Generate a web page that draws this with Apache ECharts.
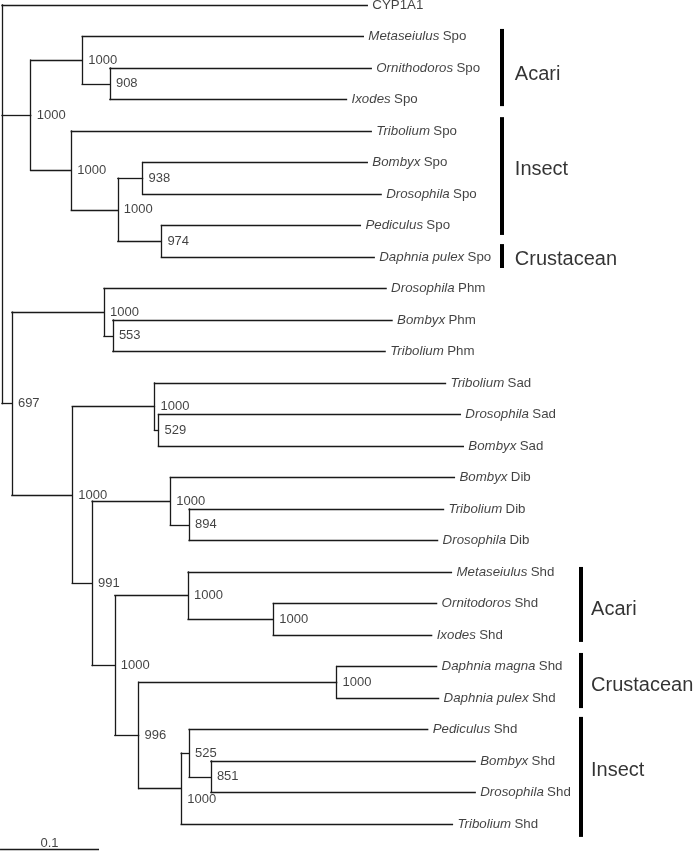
<!DOCTYPE html>
<html>
<head>
<meta charset="utf-8">
<script src="https://cdn.jsdelivr.net/npm/echarts@6/dist/echarts.min.js"></script>
<style>html,body{margin:0;padding:0;background:#fff}#c{width:695px;height:851px}</style>
</head>
<body>
<div id="c"></div>
<script>
// ---- Leaves (top to bottom) ----
const leafGenus = ['', 'Metaseiulus', 'Ornithodoros', 'Ixodes', 'Tribolium', 'Bombyx', 'Drosophila', 'Pediculus', 'Daphnia pulex',
  'Drosophila', 'Bombyx', 'Tribolium', 'Tribolium', 'Drosophila', 'Bombyx', 'Bombyx', 'Tribolium', 'Drosophila',
  'Metaseiulus', 'Ornitodoros', 'Ixodes', 'Daphnia magna', 'Daphnia pulex', 'Pediculus', 'Bombyx', 'Drosophila', 'Tribolium'];
const leafGene = ['CYP1A1', 'Spo', 'Spo', 'Spo', 'Spo', 'Spo', 'Spo', 'Spo', 'Spo',
  'Phm', 'Phm', 'Phm', 'Sad', 'Sad', 'Sad', 'Dib', 'Dib', 'Dib',
  'Shd', 'Shd', 'Shd', 'Shd', 'Shd', 'Shd', 'Shd', 'Shd', 'Shd'];
const leafParent = ['root', 'B', 'C', 'C', 'D', 'F', 'F', 'G', 'G',
  'I', 'J', 'J', 'L', 'M', 'M', 'O', 'P', 'P',
  'R', 'S', 'S', 'U', 'U', 'W', 'X', 'X', 'V'];
const leafDepth = [0.369, 0.365, 0.373, 0.348, 0.373, 0.369, 0.383, 0.362, 0.376,
  0.388, 0.394, 0.387, 0.448, 0.463, 0.466, 0.457, 0.446, 0.440,
  0.454, 0.439, 0.434, 0.439, 0.441, 0.430, 0.478, 0.478, 0.455];

// ---- Internal nodes ----
const nodeIds     = ['root', 'A', 'B', 'C', 'D', 'E', 'F', 'G', 'H', 'I', 'J', 'K', 'L', 'M', 'N', 'O', 'P', 'Q', 'R', 'S', 'T', 'U', 'V', 'W', 'X'];
const nodeParent  = [null, 'root', 'A', 'B', 'A', 'D', 'E', 'E', 'root', 'H', 'I', 'H', 'K', 'L', 'K', 'N', 'O', 'N', 'Q', 'R', 'Q', 'T', 'T', 'V', 'W'];
const nodeDepth   = [0, 0.029, 0.081, 0.109, 0.070, 0.117, 0.142, 0.161, 0.010, 0.103, 0.112, 0.071, 0.154, 0.158, 0.091, 0.170, 0.189, 0.114, 0.188, 0.274, 0.138, 0.338, 0.181, 0.189, 0.211];
const nodeSupport = [null, 1000, 1000, 908, 1000, 1000, 938, 974, 697, 1000, 553, 1000, 1000, 529, 991, 1000, 894, 1000, 1000, 1000, 996, 1000, 1000, 525, 851];
const supportBelow = ['V'];

// ---- Clade brackets ----
const cladeNames    = ['Acari', 'Insect', 'Crustacean', 'Acari', 'Crustacean', 'Insect'];
const cladeBarX     = [0.505, 0.505, 0.505, 0.585, 0.585, 0.585];
const cladeLabelX   = [0.518, 0.518, 0.518, 0.595, 0.595, 0.595];
const cladeRowStart = [0.76, 3.56, 7.59, 17.84, 20.57, 22.60];
const cladeRowEnd   = [3.21, 7.30, 8.35, 20.22, 22.32, 26.41];
const cladeLabelRow = [2.20, 5.22, 8.07, 19.2, 21.6, 24.3];

// ---- Scale bar ----
const scaleBarStart = -0.002;
const scaleBarLength = 0.1;
const scaleBarRow = 26.8;
const scaleBarLabel = '0.1';

// ---- Build geometry from tree ----
const children = {};
nodeIds.forEach(id => children[id] = []);
nodeParent.forEach((p, i) => { if (p) children[p].push({type: 'node', idx: i}); });
leafParent.forEach((p, i) => children[p].push({type: 'leaf', idx: i}));
const nodeY = {};
function yOf(c) { return c.type === 'leaf' ? c.idx : computeY(nodeIds[c.idx]); }
function computeY(id) {
  if (nodeY[id] !== undefined) return nodeY[id];
  const ys = children[id].map(yOf);
  nodeY[id] = (Math.min(...ys) + Math.max(...ys)) / 2;
  return nodeY[id];
}
nodeIds.forEach(computeY);
const depthOf = id => nodeDepth[nodeIds.indexOf(id)];

const treeSegs = [];
nodeIds.forEach((id, i) => {
  const ys = children[id].map(yOf);
  treeSegs.push({coords: [[nodeDepth[i], Math.min(...ys)], [nodeDepth[i], Math.max(...ys)]]});
});
nodeIds.forEach((id, i) => {
  if (nodeParent[i]) treeSegs.push({coords: [[depthOf(nodeParent[i]), nodeY[id]], [nodeDepth[i], nodeY[id]]]});
});
leafParent.forEach((p, i) => treeSegs.push({coords: [[depthOf(p), i], [leafDepth[i], i]]}));

const barSegs = cladeNames.map((n, i) => ({coords: [[cladeBarX[i], cladeRowStart[i]], [cladeBarX[i], cladeRowEnd[i]]]}));

const FONT = '"Liberation Sans", Arial, sans-serif';
const TXT = '#111';
const leafPts = leafGenus.map((g, i) => ({
  value: [leafDepth[i], i],
  label: {formatter: g ? '{i|' + g + '} {n|' + leafGene[i] + '}' : '{n|' + leafGene[i] + '}'}
}));
const supportPts = [];
nodeIds.forEach((id, i) => {
  if (nodeSupport[i] == null) return;
  const below = supportBelow.includes(id);
  supportPts.push({
    value: [nodeDepth[i], nodeY[id]],
    label: {formatter: String(nodeSupport[i]), offset: below ? [0, 11] : [0, 0]}
  });
});
const cladePts = cladeNames.map((n, i) => ({value: [cladeLabelX[i], cladeLabelRow[i]], label: {formatter: n}}));

const chart = echarts.init(document.getElementById('c'), null, {renderer: 'canvas'});
chart.setOption({
  animation: false,
  backgroundColor: '#fff',
  grid: {left: 2, top: 5, width: 693, height: 26.8 * 31.5, containLabel: false},
  xAxis: {type: 'value', min: 0, max: 0.7, show: false},
  yAxis: {type: 'value', min: 0, max: 26.8, inverse: true, show: false},
  series: [
    {
      type: 'lines', coordinateSystem: 'cartesian2d', silent: true, z: 2, clip: false,
      lineStyle: {color: '#1a1a1a', width: 1.3, opacity: 1, cap: 'square'},
      data: treeSegs
    },
    {
      type: 'lines', coordinateSystem: 'cartesian2d', silent: true, z: 2, clip: false,
      lineStyle: {color: '#000', width: 4, opacity: 1, cap: 'butt'},
      data: barSegs
    },
    {
      type: 'lines', coordinateSystem: 'cartesian2d', silent: true, z: 2, clip: false,
      lineStyle: {color: '#1a1a1a', width: 1.3, opacity: 1, cap: 'butt'},
      data: [{coords: [[scaleBarStart, scaleBarRow], [scaleBarStart + scaleBarLength, scaleBarRow]]}]
    },
    {
      type: 'scatter', symbolSize: 0, silent: true, z: 3, clip: false,
      data: leafPts,
      label: {
        show: true, position: 'right', distance: 5,
        rich: {
          i: {fontFamily: FONT, fontSize: 13.3, fontStyle: 'italic', color: TXT},
          n: {fontFamily: FONT, fontSize: 13.3, color: TXT}
        }
      }
    },
    {
      type: 'scatter', symbolSize: 0, silent: true, z: 3, clip: false,
      data: supportPts,
      label: {show: true, position: 'right', distance: 6, fontFamily: FONT, fontSize: 13, color: TXT}
    },
    {
      type: 'scatter', symbolSize: 0, silent: true, z: 3, clip: false,
      data: cladePts,
      label: {show: true, position: 'right', distance: 0, fontFamily: FONT, fontSize: 20, color: '#000'}
    },
    {
      type: 'scatter', symbolSize: 0, silent: true, z: 3, clip: false,
      data: [{value: [scaleBarStart + scaleBarLength / 2, scaleBarRow], label: {formatter: scaleBarLabel}}],
      label: {show: true, position: 'top', distance: -1, fontFamily: FONT, fontSize: 13, color: TXT}
    }
  ]
});
</script>
</body>
</html>
